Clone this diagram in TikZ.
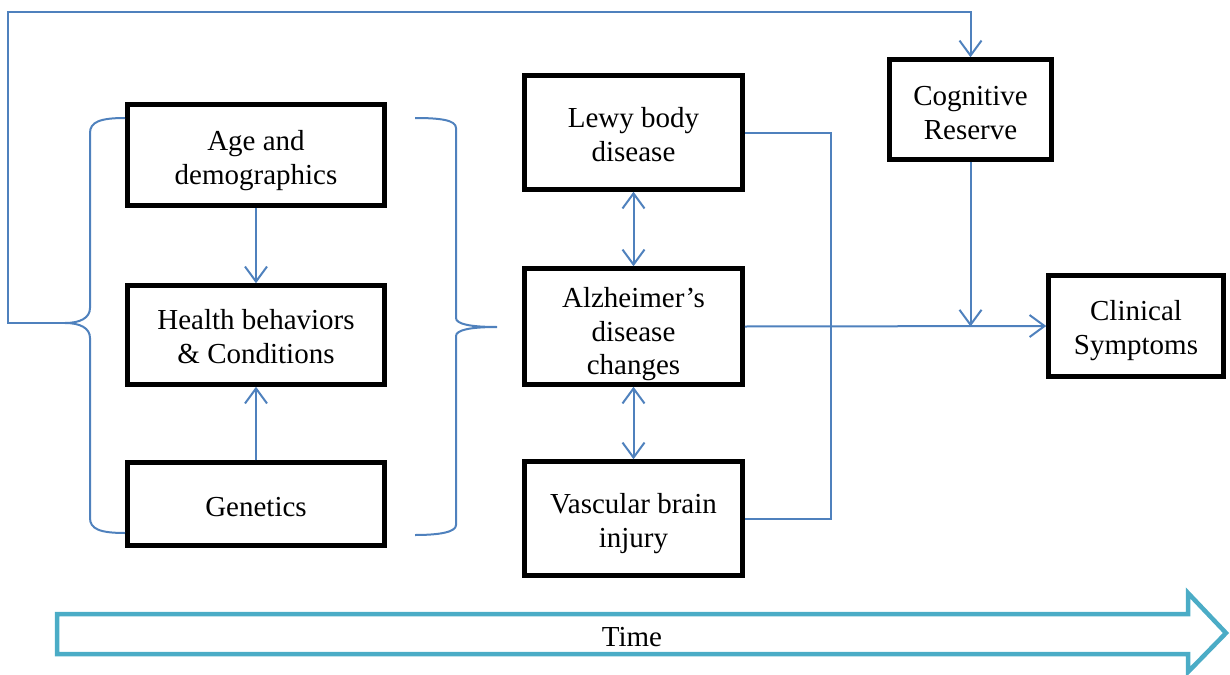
\documentclass[tikz,border=0pt]{standalone}
\usepackage{fontspec}
\setmainfont{Liberation Serif}
\usetikzlibrary{arrows.meta}
\definecolor{linkblue}{HTML}{4F81BD}
\definecolor{timecyan}{HTML}{4BACC6}
\tikzset{
  box/.style={draw=black, line width=4.5pt, rectangle, inner sep=0pt},
  lbl/.style={inner sep=0pt, align=center, font=\fontsize{29}{33.5}\selectfont},
  boxtext/.style 2 args={label={[lbl,yshift=#1]center:#2}},
  conn/.style={draw=linkblue, line width=2pt},
  tip/.style={-{Straight Barb[length=15pt,width=22pt]}},
  dtip/.style={{Straight Barb[length=15pt,width=22pt]}-{Straight Barb[length=15pt,width=22pt]}},
  brace/.style={draw=linkblue, line width=2pt},
  timearrow/.style={draw=timecyan, line width=4.5pt, line join=miter},
}
\begin{document}
\begin{tikzpicture}[x=1pt,y=-1pt]
\useasboundingbox (0,0) rectangle (1230,674);
% boxes
\node[box, minimum width=257pt, minimum height=101pt, boxtext={-5.5pt}{Age and\\demographics}] (age) at (256,155) {};
\node[box, minimum width=257pt, minimum height=99pt, boxtext={-1.5pt}{Health behaviors\\\& Conditions}] (health) at (256,335) {};
\node[box, minimum width=257pt, minimum height=83pt, boxtext={-3pt}{Genetics}] (gen) at (256,504) {};
\node[box, minimum width=218pt, minimum height=114pt, boxtext={-2pt}{Lewy body\\disease}] (lewy) at (633.5,132.5) {};
\node[box, minimum width=218pt, minimum height=116pt, boxtext={-8pt}{Alzheimer’s\\disease\\changes}] (alz) at (633.5,326.5) {};
\node[box, minimum width=218pt, minimum height=114pt, boxtext={-5pt}{Vascular brain\\injury}] (vasc) at (633.5,518.5) {};
\node[box, minimum width=162pt, minimum height=100pt, boxtext={-3.5pt}{Cognitive\\Reserve}] (cog) at (970.5,109.5) {};
\node[box, minimum width=175pt, minimum height=101pt, boxtext={-4.5pt}{Clinical\\Symptoms}] (clin) at (1136,326) {};
% coordinates
\coordinate (rj) at (831,326.5);
\coordinate (cj) at (970.5,326.5);
\coordinate (ltip) at (65,323);
\coordinate (lcorner) at (8,323);
\coordinate (tl) at (8,12);
\coordinate (tr) at (970.5,12);
% connectors
\draw[conn,tip] (age) -- (health);
\draw[conn,tip] (gen) -- (health);
\draw[conn,dtip] (lewy) -- (alz);
\draw[conn,dtip] (alz) -- (vasc);
\draw[conn] (lewy.east) -| (rj) |- (vasc.east);
\draw[conn,tip] (alz.east) -- (clin.west);
\draw[conn,tip] (cog.south) -- (cj);
\draw[conn,tip] (ltip) -- (lcorner) -- (tl) -- (tr) -- (cog.north);
% braces
\draw[brace] (125,118) .. controls (100,118) and (90,122) .. (90,133) -- (90,308)
  .. controls (90,318) and (80,323) .. (ltip) .. controls (80,323) and (90,328) .. (90,338)
  -- (90,518) .. controls (90,529) and (100,533) .. (125,533);
\draw[brace] (415,118) .. controls (440,118) and (456,120) .. (456,128) -- (456,318)
  .. controls (456,324) and (470,327) .. (497,327) .. controls (470,327) and (456,330) .. (456,336)
  -- (456,525) .. controls (456,532) and (440,535) .. (415,535);
% time arrow
\draw[timearrow] (57,614) -- (1188,614) -- (1188,593) -- (1226,633) -- (1188,672) -- (1188,654) -- (57,654) -- cycle;
\node[lbl] (time) at (632,637.5) {Time};
\end{tikzpicture}
\end{document}
